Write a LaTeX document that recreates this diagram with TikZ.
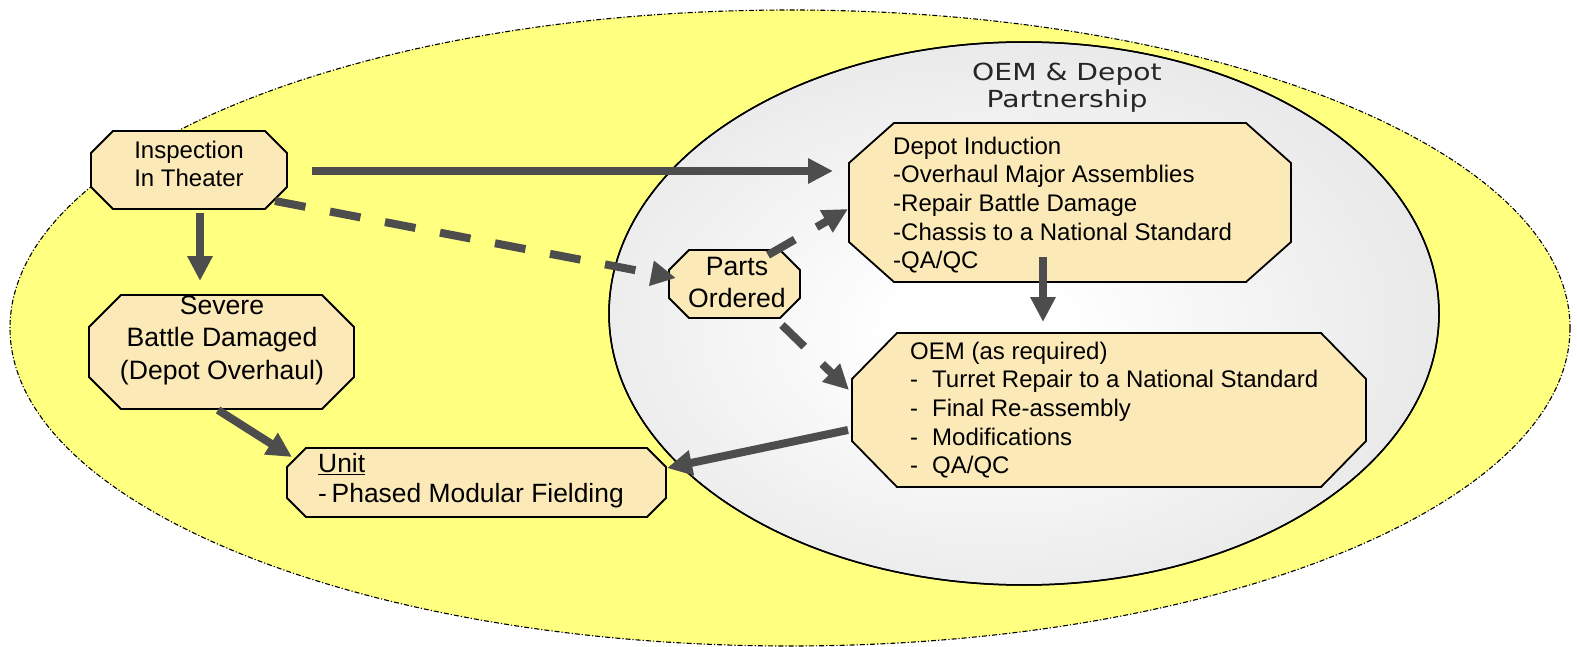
\documentclass[tikz,border=0pt]{standalone}
\usepackage{fontspec}
\setmainfont{Liberation Sans}
\newfontfamily\titlefont[FakeStretch=1.2]{DejaVu Sans}
\usetikzlibrary{arrows.meta,calc}
\definecolor{ylw}{HTML}{FFFF80}
\definecolor{boxfill}{HTML}{FBE9B7}
\definecolor{arrgray}{HTML}{4D4D4D}
\definecolor{ellgray}{HTML}{D6D6D6}
\definecolor{titlegray}{HTML}{262626}
\pgfdeclareradialshading{grayrad}{\pgfpoint{-3bp}{-2bp}}{color(0bp)=(white); color(5bp)=(white); color(46bp)=(ellgray); color(60bp)=(ellgray)}
\newcommand\octbox[7]{%
  \path[octstyle] ({#2+#6},#3) -- ({#4-#6},#3) -- (#4,{#3+#7}) -- (#4,{#5-#7}) -- ({#4-#6},#5) -- ({#2+#6},#5) -- (#2,{#5-#7}) -- (#2,{#3+#7}) -- cycle;
  \node[inner sep=0pt, outer sep=0pt, draw=none, minimum width={(#4-#2)*1pt}, minimum height={(#5-#3)*1pt}] (#1) at ({(#2+#4)/2},{(#3+#5)/2}) {};%
}
\tikzset{
  octstyle/.style={fill=boxfill, draw=black, line width=1.8pt, line join=miter},
  arr/.style={draw=arrgray, line width=8pt, -{Triangle[length=25pt,width=24pt]}},
  darr/.style={arr, dash pattern=on 31pt off 25pt},
  txtA/.style={inner sep=0pt, font=\fontsize{24}{28.6}\selectfont},
  txtB/.style={inner sep=0pt, font=\fontsize{26.6}{32.4}\selectfont},
  txtU/.style={inner sep=0pt, font=\fontsize{26.4}{30}\selectfont},
  ttl/.style={inner sep=0pt, text=titlegray, font=\titlefont\fontsize{23.5}{27}\selectfont},
}
\begin{document}
\begin{tikzpicture}[x=1pt,y=-1pt]
\useasboundingbox (0,0) rectangle (1577,647);
% outer yellow ellipse
\path[fill=ylw, draw=black, line width=1.1pt, dash pattern=on 5pt off 2pt on 1.2pt off 2pt] (790,328) ellipse [x radius=780, y radius=318];
% gray ellipse
\path[shading=grayrad, draw=black, line width=1.5pt] (1024,313.5) ellipse [x radius=415, y radius=271.5];
\draw[black, line width=1.5pt] (1024,313.5) ellipse [x radius=415, y radius=271.5];
% title
\node[ttl, anchor=north, align=center] (title) at (1067,{80-0.7*27}) {\strut OEM \& Depot\\Partnership};
% boxes
\octbox{insp}{91}{131}{287}{209}{22}{22}
\octbox{sev}{89}{295}{354}{409}{32}{32}
\octbox{unit}{287}{448}{666}{517}{19}{19}
\octbox{parts}{669}{250}{800}{318}{20}{20}
\octbox{depot}{849}{123}{1291}{282}{45}{40}
\octbox{oem}{852}{333}{1366}{487}{45}{46}
% texts
\node[txtA, anchor=north, align=center] (insp-t) at (189,{158-0.7*28.6}) {\strut Inspection\\In Theater};
\node[txtB, anchor=north, align=center] (sev-t) at (222,{314-0.7*32.4}) {\strut Severe\\Battle Damaged\\(Depot Overhaul)};
\node[txtU, anchor=north west, align=left] (unit-t) at (318,{472-0.7*30}) {\strut\underline{Unit}\\-\hspace{0.18em}Phased Modular Fielding};
\node[txtB, anchor=north, align=center] (parts-t) at (737,{275-0.7*32.4}) {\strut Parts\\Ordered};
\node[txtA, anchor=north west, align=left] (depot-t) at (893,{154-0.7*28.6}) {\strut Depot Induction\\-Overhaul Major Assemblies\\-Repair Battle Damage\\-Chassis to a National Standard\\-QA/QC};
\node[txtA, anchor=north west, align=left] (oem-t) at (910,{359-0.7*28.6}) {\strut OEM (as required)\\\makebox[22pt][l]{-}Turret Repair to a National Standard\\\makebox[22pt][l]{-}Final Re-assembly\\\makebox[22pt][l]{-}Modifications\\\makebox[22pt][l]{-}QA/QC};
% connectors
\draw[arr] ([xshift=25pt,yshift=-1pt]insp.east) -- ([xshift=-16pt,yshift=31.5pt]depot.west);
\draw[arr] ([xshift=11pt,yshift=-4pt]insp.south) -- ([xshift=-21.5pt,yshift=14pt]sev.north);
\draw[darr] ([xshift=-12pt,yshift=8pt]insp.south east) -- ([xshift=7pt,yshift=6pt]parts.west);
\draw[darr] ([xshift=-32pt,yshift=-5pt]parts.north east) -- ([xshift=-1pt,yshift=-6.5pt]depot.west);
\draw[darr] ([xshift=-18pt,yshift=-7pt]parts.south east) -- ([xshift=-3pt,yshift=20pt]oem.west);
\draw[arr] ([xshift=-27pt,yshift=25pt]depot.south) -- ([xshift=-66pt,yshift=11pt]oem.north);
\draw[arr] ([xshift=-3.5pt,yshift=-1pt]sev.south) -- ([xshift=5pt,yshift=-9pt]unit.north west);
\draw[arr] ([xshift=-4pt,yshift=-20pt]oem.west) -- ([xshift=1pt,yshift=14.5pt]unit.east);
\end{tikzpicture}
\end{document}
